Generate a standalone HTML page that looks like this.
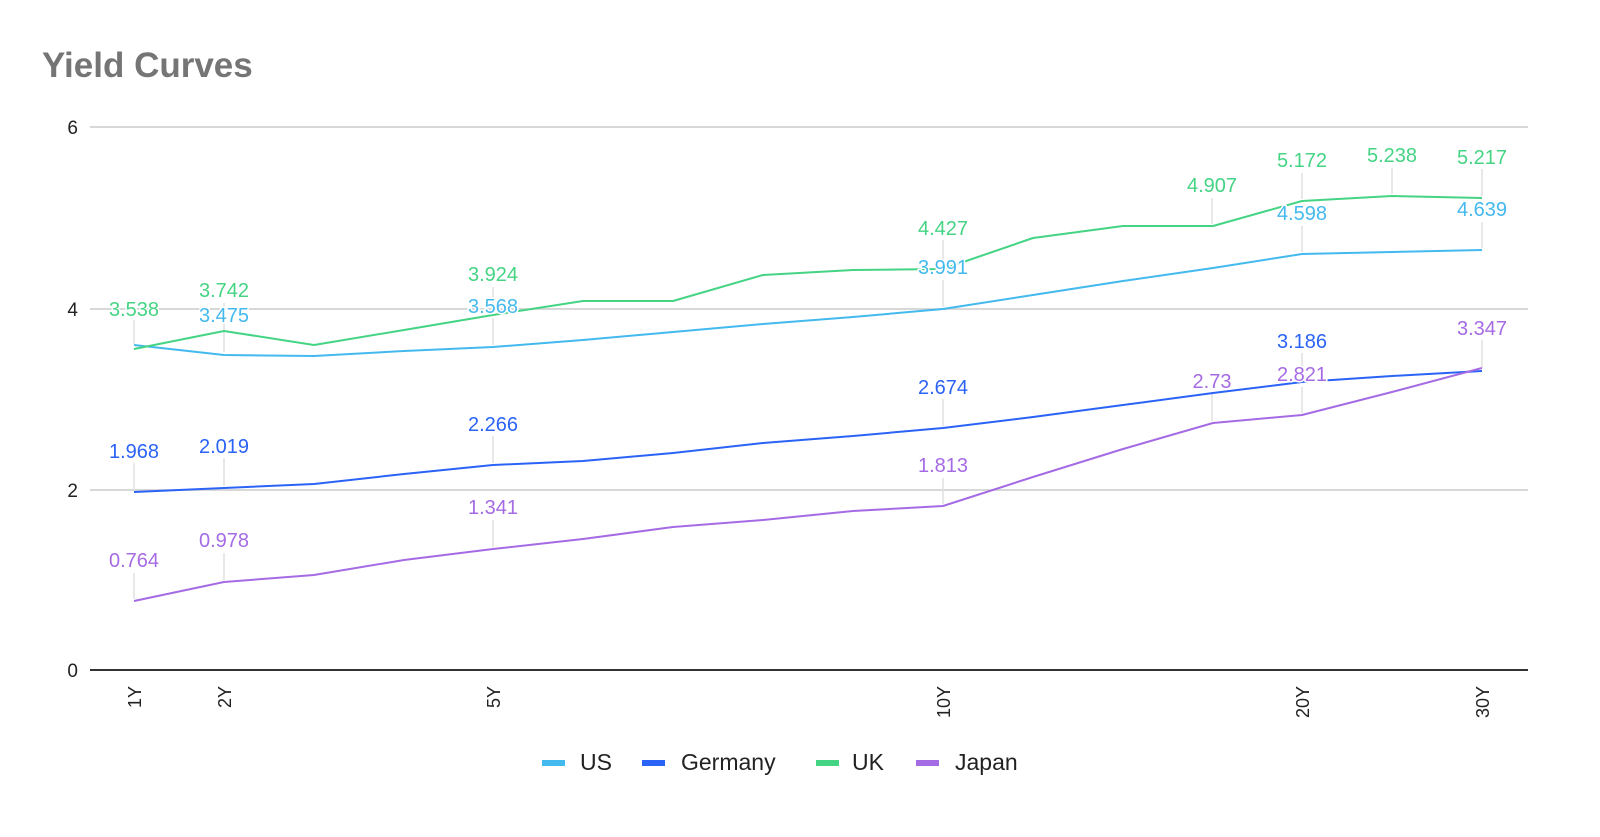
<!DOCTYPE html>
<html><head><meta charset="utf-8"><style>
html,body{margin:0;padding:0;background:#fff;}
svg{display:block;font-family:"Liberation Sans",Roboto,sans-serif;}
.lb text{paint-order:stroke;stroke:#fff;stroke-width:3px;stroke-linejoin:round;}
</style></head><body>
<svg width="1600" height="837" viewBox="0 0 1600 837" xmlns="http://www.w3.org/2000/svg">
<text x="42" y="77" font-size="35" font-weight="bold" fill="#757575">Yield Curves</text>
<g stroke="#cccccc" stroke-width="1.5">
<line x1="90" y1="127" x2="1528" y2="127"/>
<line x1="90" y1="309" x2="1528" y2="309"/>
<line x1="90" y1="490" x2="1528" y2="490"/>
</g>
<line x1="90" y1="670" x2="1528" y2="670" stroke="#333" stroke-width="2"/>
<g font-size="19" fill="#222" text-anchor="end">
<text x="78" y="134">6</text><text x="78" y="316">4</text><text x="78" y="497">2</text><text x="78" y="677">0</text>
</g>
<g font-size="18" fill="#222" text-anchor="end">
<text transform="translate(141,686) rotate(-90)">1Y</text>
<text transform="translate(231,686) rotate(-90)">2Y</text>
<text transform="translate(500,686) rotate(-90)">5Y</text>
<text transform="translate(950,686) rotate(-90)">10Y</text>
<text transform="translate(1309,686) rotate(-90)">20Y</text>
<text transform="translate(1489,686) rotate(-90)">30Y</text>
</g>
<g stroke="#e0e0e0" stroke-width="1.5">
<line x1="134" y1="320" x2="134" y2="344"/><line x1="224" y1="328" x2="224" y2="352"/><line x1="493" y1="318" x2="493" y2="345"/>
<line x1="943" y1="280" x2="943" y2="307"/><line x1="1302" y1="226" x2="1302" y2="252"/><line x1="1482" y1="222" x2="1482" y2="248"/>
<line x1="134" y1="463" x2="134" y2="490"/><line x1="224" y1="458" x2="224" y2="486"/><line x1="493" y1="436" x2="493" y2="463"/>
<line x1="943" y1="399" x2="943" y2="426"/><line x1="1302" y1="353" x2="1302" y2="380"/><line x1="1482" y1="340" x2="1482" y2="368"/>
<line x1="224" y1="303" x2="224" y2="329"/><line x1="493" y1="287" x2="493" y2="313"/><line x1="943" y1="240" x2="943" y2="267"/>
<line x1="1212" y1="198" x2="1212" y2="224"/><line x1="1302" y1="173" x2="1302" y2="199"/><line x1="1392" y1="168" x2="1392" y2="194"/><line x1="1482" y1="169" x2="1482" y2="196"/>
<line x1="134" y1="573" x2="134" y2="599"/><line x1="224" y1="553" x2="224" y2="580"/><line x1="493" y1="520" x2="493" y2="547"/>
<line x1="943" y1="478" x2="943" y2="504"/><line x1="1212" y1="393" x2="1212" y2="421"/><line x1="1302" y1="387" x2="1302" y2="413"/>
</g>
<g fill="none" stroke-width="2" stroke-linejoin="round">
<polyline stroke="#44b9ee" points="134,345 224,355 314,356 404,351 493,347 583,340 673,332 763,324 853,317 943,309 1033,295 1123,281 1213,268 1302,254 1392,252 1482,250"/>
<polyline stroke="#2a63f6" points="134,492 224,488 314,484 404,474 493,465 583,461 673,453 763,443 853,436 943,428 1033,417 1123,405 1213,393 1302,382 1392,376 1482,371"/>
<polyline stroke="#44d483" points="134,349 224,331 314,345 404,330 493,315 583,301 673,301 763,275 853,270 943,269 1033,238 1123,226 1213,226 1302,201 1392,196 1482,198"/>
<polyline stroke="#a56be4" points="134,601 224,582 314,575 404,560 493,549 583,539 673,527 763,520 853,511 943,506 1033,477 1123,449 1213,423 1302,415 1392,392 1482,368"/>
</g>
<g font-size="20" text-anchor="middle" class="lb">
<g fill="#44b9ee">
<text x="224" y="322">3.475</text><text x="493" y="313">3.568</text>
<text x="943" y="274">3.991</text><text x="1302" y="220">4.598</text><text x="1482" y="216">4.639</text>
</g>
<g fill="#2a63f6">
<text x="134" y="458">1.968</text><text x="224" y="453">2.019</text><text x="493" y="431">2.266</text>
<text x="943" y="394">2.674</text><text x="1302" y="348">3.186</text>
</g>
<g fill="#44d483">
<text x="134" y="316">3.538</text><text x="224" y="297">3.742</text><text x="493" y="281">3.924</text>
<text x="943" y="235">4.427</text><text x="1212" y="192">4.907</text><text x="1302" y="167">5.172</text>
<text x="1392" y="162">5.238</text><text x="1482" y="164">5.217</text>
</g>
<g fill="#a56be4">
<text x="134" y="567">0.764</text><text x="224" y="547">0.978</text><text x="493" y="514">1.341</text>
<text x="943" y="472">1.813</text><text x="1212" y="388">2.73</text><text x="1302" y="381">2.821</text><text x="1482" y="335">3.347</text>
</g>
</g>
<g font-size="23" fill="#222">
<rect x="542" y="760" width="23" height="6" fill="#44b9ee"/><text x="580" y="770">US</text>
<rect x="642" y="760" width="23" height="6" fill="#2a63f6"/><text x="681" y="770">Germany</text>
<rect x="816" y="760" width="23" height="6" fill="#44d483"/><text x="852" y="770">UK</text>
<rect x="916" y="760" width="23" height="6" fill="#a56be4"/><text x="955" y="770">Japan</text>
</g>
</svg>
</body></html>
